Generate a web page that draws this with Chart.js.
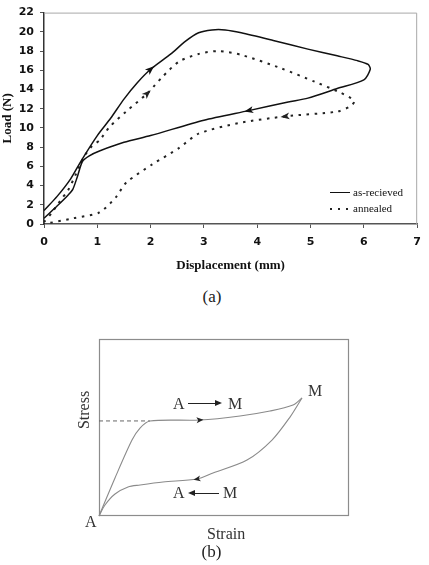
<!DOCTYPE html>
<html><head><meta charset="utf-8">
<script src="https://cdn.jsdelivr.net/npm/chart.js@4"></script>
<style>
html,body{margin:0;padding:0;background:#fff;width:429px;height:565px;overflow:hidden;position:relative}
canvas{position:absolute}
.t{position:absolute;white-space:nowrap;line-height:1;font-family:"Liberation Serif","Times New Roman",serif;color:#333;font-size:16px}
.lg{font-size:11px;color:#111}
</style></head><body>
<canvas id="ca" width="429" height="280" style="left:0;top:0;width:429px;height:280px"></canvas>
<canvas id="cb" width="270" height="200" style="left:90px;top:330px;width:270px;height:200px"></canvas>

<div style="position:absolute;left:330px;top:191.5px;width:20px;height:0;border-top:1.5px solid #111"></div>
<div class="t lg" style="left:353px;top:186.5px">as-recieved</div>
<div style="position:absolute;left:330px;top:208px;width:21px;height:2px;background:repeating-linear-gradient(to right,#222 0 2.5px,transparent 2.5px 8px)"></div>
<div class="t lg" style="left:353px;top:203px">annealed</div>
<div class="t" style="left:212px;top:287.5px;font-size:17px;transform:translateX(-50%);color:#222">(a)</div>

<div class="t" style="left:84px;top:410px;transform:translate(-50%,-50%) rotate(-90deg)">Stress</div>
<div class="t" style="left:173px;top:395.6px">A</div>
<div style="position:absolute;left:188px;top:402.5px;width:28px;height:1.3px;background:#222"></div>
<div style="position:absolute;left:215px;top:400px;width:0;height:0;border-left:7px solid #222;border-top:3px solid transparent;border-bottom:3px solid transparent"></div>
<div class="t" style="left:228px;top:395.6px">M</div>
<div class="t" style="left:308px;top:382.6px">M</div>
<div class="t" style="left:173px;top:484.6px">A</div>
<div style="position:absolute;left:188px;top:490px;width:0;height:0;border-right:7px solid #222;border-top:3px solid transparent;border-bottom:3px solid transparent"></div>
<div style="position:absolute;left:194px;top:492.5px;width:25px;height:1.3px;background:#222"></div>
<div class="t" style="left:223px;top:484.6px">M</div>
<div class="t" style="left:85px;top:513.6px">A</div>
<div class="t" style="left:207px;top:525.6px">Strain</div>
<div class="t" style="left:211.5px;top:542.5px;font-size:17px;transform:translateX(-50%);color:#222">(b)</div>

<script>
// ---- Chart (a): Load vs Displacement ----
const xTicksA = [0,1,2,3,4,5,6,7];
const yTicksA = [0,2,4,6,8,10,12,14,16,18,20,22];
const seriesNames = ['as-recieved','annealed'];
const asRecievedDisp = [0,0.25,0.5,0.7,1.0,1.25,1.5,1.75,2.0,2.38,2.65,2.9,3.15,3.4,3.7,4.3,4.95,5.5,5.88,6.08,6.12,6.0,5.5,4.95,4.58,3.84,3.0,2.0,1.5,1.04,0.85,0.72,0.63,0.54,0.45,0.25,0];
const asRecievedLoad = [1.4,2.9,4.7,6.6,9.2,11.0,13.0,14.7,16.1,17.7,19.0,19.9,20.2,20.2,19.9,19.1,18.2,17.5,17.0,16.6,16.1,15.0,14.1,13.1,12.7,11.8,10.8,9.2,8.5,7.6,7.1,6.5,5.0,3.6,3.0,1.9,0.6];
const annealedDisp = [0,0.15,0.3,0.45,0.6,0.75,0.9,1.04,1.23,1.54,1.94,2.22,2.53,2.9,3.28,3.7,4.45,5.08,5.51,5.76,5.82,5.73,5.5,4.52,3.65,2.9,2.53,2.03,1.54,1.35,1.04,0.55,0.1,0];
const annealedLoad = [0.2,1.2,2.4,3.5,5.2,7.0,8.1,8.7,10.1,11.7,13.6,15.3,16.9,17.7,18.0,17.6,16.2,14.8,13.8,13.1,12.7,12.2,11.7,11.2,10.5,9.4,7.9,6.2,4.3,2.8,1.2,0.6,0.1,0];

// ---- Chart (b): schematic stress-strain (normalised) ----
const loadStrain = [0,0.064,0.132,0.164,0.204,0.404,0.564,0.684,0.776,0.812];
const loadStress = [0,0.215,0.429,0.497,0.537,0.542,0.565,0.593,0.627,0.667];
const unloadStrain = [0.812,0.764,0.692,0.592,0.456,0.392,0.256,0.164,0.116,0.064,0.024,0];
const unloadStress = [0.667,0.559,0.429,0.316,0.243,0.209,0.192,0.175,0.164,0.124,0.062,0];
const plateauStrain = [0,0.204];
const plateauStress = [0.537,0.537];

const pts = (xs, ys) => xs.map((x,i)=>({x, y: ys[i]}));

const arrowPlugin = {id:'arrows', afterDatasetsDraw(chart){
  const ctx = chart.ctx;
  chart.data.datasets.forEach((ds,di)=>{
    if(!ds.arrowAt) return;
    const meta = chart.getDatasetMeta(di);
    ds.arrowAt.forEach(i=>{
      const p0 = meta.data[i-1], p = meta.data[i], p1 = meta.data[i+1];
      const ang = Math.atan2(p1.y-p0.y, p1.x-p0.x);
      const L = ds.arrowLen, W = ds.arrowWid;
      ctx.save(); ctx.translate(p.x,p.y); ctx.rotate(ang);
      ctx.fillStyle = ds.borderColor; ctx.beginPath();
      ctx.moveTo(L/2,0); ctx.lineTo(-L/2,-W); ctx.lineTo(-L/4,0); ctx.lineTo(-L/2,W); ctx.closePath(); ctx.fill();
      ctx.restore();
    });
  });
}};

const frameA = {id:'frameA', beforeDatasetsDraw(chart){
  const {ctx, chartArea:a} = chart;
  ctx.save(); ctx.strokeStyle='#a8a8a8'; ctx.lineWidth=1; ctx.beginPath();
  ctx.moveTo(a.left, a.top+0.5); ctx.lineTo(a.right-0.5, a.top+0.5); ctx.lineTo(a.right-0.5, a.bottom); ctx.stroke();
  ctx.restore();
}};

new Chart(document.getElementById('ca'), {
  type:'scatter',
  data:{datasets:[
    {label:seriesNames[0], data:pts(asRecievedDisp, asRecievedLoad), showLine:true, borderColor:'#111', borderWidth:1.5, pointRadius:0, tension:0.25, arrowAt:[8,25], arrowLen:9, arrowWid:3.5},
    {label:seriesNames[1], data:pts(annealedDisp, annealedLoad), showLine:true, borderColor:'#222', borderWidth:2, borderDash:[2.5,5.5], pointRadius:0, tension:0.25, arrowAt:[10,23], arrowLen:9, arrowWid:3.5}
  ]},
  options:{
    responsive:false, devicePixelRatio:1, animation:false,
    layout:{padding:{top:10,right:9,left:0,bottom:0}},
    plugins:{legend:{display:false}, tooltip:{enabled:false}},
    scales:{
      x:{type:'linear', min:0, max:7, afterBuildTicks:s=>{s.ticks=xTicksA.map(v=>({value:v}));},
         afterFit:s=>{s.height=56;},
         grid:{drawOnChartArea:false, drawTicks:true, tickLength:4, color:'#555'},
         border:{color:'#555', width:1.5},
         ticks:{color:'#111', padding:8, font:{family:'DejaVu Sans', weight:'bold', size:11}, maxRotation:0},
         title:{display:true, text:'Displacement (mm)', color:'#111', font:{family:'Liberation Serif', weight:'bold', size:13}, padding:{top:0,bottom:7}}},
      y:{type:'linear', min:0, max:22, afterBuildTicks:s=>{s.ticks=yTicksA.map(v=>({value:v}));},
         afterFit:s=>{s.width=44;},
         grid:{drawOnChartArea:false, drawTicks:true, tickLength:4, color:'#555'},
         border:{color:'#333', width:1.5},
         ticks:{color:'#111', padding:6, font:{family:'DejaVu Sans', weight:'bold', size:11}},
         title:{display:true, text:'Load (N)', color:'#111', font:{family:'Liberation Serif', weight:'bold', size:13}, padding:{top:0,bottom:0}}}
    }
  },
  plugins:[frameA, arrowPlugin]
});

const frameB = {id:'frameB', beforeDatasetsDraw(chart){
  const {ctx, chartArea:a} = chart;
  ctx.save(); ctx.strokeStyle='#8c8c8c'; ctx.lineWidth=1.2;
  ctx.strokeRect(a.left+0.5, a.top+0.5, a.right-a.left-1, a.bottom-a.top-1);
  ctx.restore();
}};

new Chart(document.getElementById('cb'), {
  type:'scatter',
  data:{datasets:[
    {label:'loading', data:pts(loadStrain, loadStress), showLine:true, borderColor:'#8a8a8a', borderWidth:1.1, pointRadius:0, tension:0.3, clip:false},
    {label:'unloading', data:pts(unloadStrain, unloadStress), showLine:true, borderColor:'#8a8a8a', borderWidth:1.1, pointRadius:0, tension:0.3, clip:false},
    {label:'plateau', data:pts(plateauStrain, plateauStress), showLine:true, borderColor:'#666', borderWidth:1, borderDash:[4,3], pointRadius:0, clip:false},
    {label:'arrowL', data:pts(loadStrain, loadStress), showLine:false, borderColor:'#222', pointRadius:0, arrowAt:[5], arrowLen:7, arrowWid:3},
    {label:'arrowU', data:pts(unloadStrain, unloadStress), showLine:false, borderColor:'#222', pointRadius:0, arrowAt:[5], arrowLen:7, arrowWid:3}
  ]},
  options:{
    responsive:false, devicePixelRatio:1, animation:false,
    layout:{padding:{left:9, top:9, right:11, bottom:14}},
    plugins:{legend:{display:false}, tooltip:{enabled:false}},
    scales:{x:{type:'linear', display:false, min:0, max:1}, y:{type:'linear', display:false, min:0, max:1}}
  },
  plugins:[frameB, arrowPlugin]
});
</script>
</body></html>
